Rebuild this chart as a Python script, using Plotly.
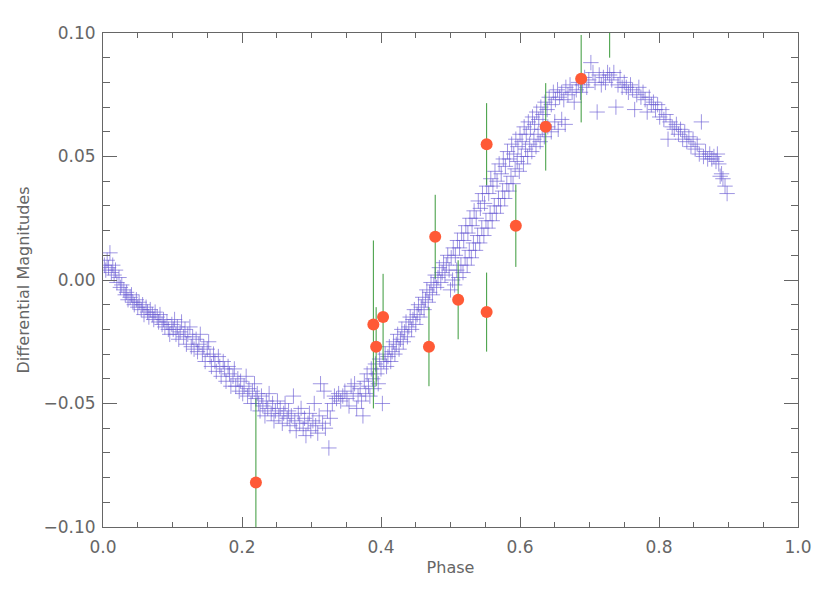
import plotly.graph_objects as go

# light curve points (plus markers)
lc_phase = [
    0.002, 0.004, 0.006, 0.008, 0.010, 0.012, 0.014, 0.016, 0.018, 0.020, 0.023, 0.025, 0.027, 0.030, 0.032,
    0.034, 0.036, 0.039, 0.041, 0.043, 0.045, 0.048, 0.050, 0.052, 0.055, 0.057, 0.059, 0.062, 0.064, 0.066,
    0.068, 0.071, 0.073, 0.075, 0.078, 0.080, 0.082, 0.085, 0.087, 0.089, 0.092, 0.094, 0.096, 0.099,
    0.101, 0.103, 0.105, 0.107, 0.109, 0.111, 0.113, 0.116, 0.118, 0.120, 0.122, 0.125, 0.127, 0.129, 0.131,
    0.134, 0.136, 0.138, 0.140, 0.143, 0.145, 0.147, 0.150, 0.152, 0.154, 0.156, 0.159, 0.161, 0.163, 0.166,
    0.168, 0.170, 0.173, 0.175, 0.177, 0.180, 0.182, 0.184, 0.187, 0.189, 0.191, 0.194, 0.196, 0.198, 0.201,
    0.203, 0.206, 0.208, 0.210, 0.213, 0.215, 0.218, 0.220,
    0.222, 0.224, 0.226, 0.228, 0.230, 0.233, 0.235, 0.237, 0.239, 0.242, 0.244, 0.246, 0.248, 0.251, 0.253,
    0.255, 0.258, 0.260, 0.262, 0.265, 0.267, 0.269, 0.271, 0.274, 0.276, 0.278, 0.281, 0.283, 0.285, 0.288,
    0.290, 0.292, 0.295, 0.297, 0.299, 0.302, 0.304, 0.306, 0.309, 0.311, 0.313, 0.316, 0.318, 0.320, 0.323,
    0.325, 0.327,
    0.330, 0.333, 0.336, 0.339, 0.342, 0.345, 0.348, 0.351, 0.354, 0.357, 0.360, 0.362, 0.365, 0.367, 0.370,
    0.372, 0.374, 0.376, 0.378, 0.380, 0.382, 0.384, 0.386, 0.388, 0.390, 0.392, 0.394, 0.396, 0.398, 0.400,
    0.402, 0.404,
    0.406, 0.408, 0.410, 0.412, 0.414, 0.416, 0.418, 0.420, 0.422, 0.424, 0.426, 0.428, 0.430, 0.432, 0.434,
    0.436, 0.438, 0.440, 0.442, 0.444, 0.446, 0.448, 0.450, 0.452, 0.454, 0.456, 0.458, 0.460, 0.462, 0.464,
    0.466, 0.468, 0.470, 0.472, 0.474, 0.476, 0.478, 0.480, 0.482, 0.484, 0.486, 0.488, 0.490, 0.492, 0.494,
    0.496, 0.498,
    0.501, 0.504, 0.507, 0.510, 0.513, 0.516, 0.519, 0.522, 0.525, 0.528, 0.531, 0.534, 0.537, 0.540, 0.543,
    0.546, 0.549, 0.552, 0.555, 0.558, 0.561, 0.564, 0.567, 0.570, 0.573, 0.576, 0.579, 0.582, 0.585, 0.588,
    0.591, 0.594, 0.597, 0.600, 0.603, 0.606, 0.609, 0.612, 0.615, 0.618, 0.621, 0.624, 0.627, 0.630, 0.633,
    0.636, 0.639, 0.642, 0.645, 0.648, 0.651, 0.654, 0.657,
    0.500, 0.503, 0.506, 0.509, 0.512, 0.515, 0.518, 0.521, 0.524, 0.527, 0.530, 0.533, 0.536, 0.539, 0.542,
    0.545, 0.548, 0.551, 0.554, 0.557, 0.560, 0.563, 0.566, 0.569, 0.572, 0.575, 0.578, 0.581, 0.584, 0.587,
    0.590, 0.593, 0.596, 0.599, 0.602, 0.605, 0.608, 0.611, 0.614, 0.617, 0.620, 0.623, 0.626, 0.629, 0.632,
    0.635, 0.640, 0.645, 0.650, 0.655, 0.660, 0.665,
    0.660, 0.663, 0.666, 0.669, 0.672, 0.675, 0.678, 0.681, 0.684, 0.687, 0.690, 0.693, 0.696, 0.699, 0.702,
    0.705, 0.708, 0.711, 0.714, 0.717, 0.720, 0.723, 0.726, 0.729, 0.732, 0.735, 0.738, 0.741, 0.744, 0.747,
    0.750, 0.753, 0.756, 0.759, 0.762, 0.765, 0.768, 0.771, 0.774, 0.777, 0.780, 0.783, 0.786, 0.789,
    0.792, 0.795, 0.798, 0.801, 0.804, 0.807, 0.810, 0.813, 0.816, 0.819, 0.822, 0.825, 0.828, 0.831, 0.834,
    0.837, 0.840, 0.843, 0.846, 0.849, 0.852, 0.855, 0.858, 0.861, 0.864, 0.867, 0.870, 0.873, 0.876, 0.879,
    0.882, 0.884, 0.886, 0.888, 0.890, 0.892, 0.895, 0.898,
]
lc_mag = [
    0.006, 0.004, 0.008, 0.005, 0.011, 0.003, 0.006, 0.002, 0.004, -0.001, 0.001, -0.003, -0.002, -0.004, -0.006,
    -0.005, -0.008, -0.007, -0.006, -0.009, -0.010, -0.008, -0.011, -0.009, -0.012, -0.010, -0.014, -0.011, -0.013, -0.015,
    -0.012, -0.014, -0.016, -0.013, -0.015, -0.017, -0.014, -0.018, -0.016, -0.019, -0.017, -0.020, -0.022, -0.018,
    -0.020, -0.016, -0.022, -0.019, -0.024, -0.021, -0.017, -0.023, -0.020, -0.026, -0.022, -0.019, -0.027, -0.023, -0.028,
    -0.024, -0.029, -0.026, -0.022, -0.030, -0.027, -0.033, -0.028, -0.025, -0.031, -0.035, -0.030, -0.033, -0.037, -0.031,
    -0.035, -0.039, -0.033, -0.036, -0.041, -0.035, -0.038, -0.043, -0.039, -0.036, -0.043, -0.040, -0.045, -0.041, -0.046,
    -0.043, -0.039, -0.047, -0.044, -0.050, -0.045, -0.042, -0.048,
    -0.046, -0.050, -0.053, -0.047, -0.051, -0.055, -0.049, -0.052, -0.046, -0.054, -0.050, -0.057, -0.053, -0.049, -0.055,
    -0.052, -0.058, -0.054, -0.050, -0.056, -0.053, -0.059, -0.055, -0.047, -0.057, -0.061, -0.054, -0.058, -0.052, -0.060,
    -0.056, -0.063, -0.058, -0.054, -0.061, -0.057, -0.050, -0.059, -0.062, -0.055, -0.042, -0.058, -0.045, -0.060, -0.053,
    -0.068, -0.056,
    -0.050, -0.047, -0.048, -0.046, -0.049, -0.047, -0.045, -0.048, -0.051, -0.043, -0.046, -0.042, -0.052, -0.047, -0.044,
    -0.049, -0.055, -0.041, -0.046, -0.038, -0.043, -0.047, -0.036, -0.040, -0.044, -0.034, -0.038, -0.042, -0.032, -0.036,
    -0.050, -0.033,
    -0.030, -0.035, -0.031, -0.027, -0.033, -0.029, -0.025, -0.030, -0.026, -0.022, -0.028, -0.024, -0.020, -0.025, -0.021,
    -0.017, -0.023, -0.019, -0.015, -0.020, -0.016, -0.012, -0.018, -0.014, -0.010, -0.015, -0.011, -0.007, -0.012, -0.008,
    -0.004, -0.009, -0.005, -0.001, -0.006, -0.002, 0.002, -0.003, 0.001, 0.005, -0.001, 0.003, 0.007, 0.002, 0.006,
    0.010, 0.004,
    0.009, 0.013, 0.010, 0.016, 0.013, 0.019, 0.016, 0.022, 0.019, 0.025, 0.022, 0.028, 0.025, 0.032, 0.029,
    0.035, 0.031, 0.038, 0.035, 0.041, 0.038, 0.044, 0.040, 0.047, 0.043, 0.049, 0.046, 0.052, 0.049, 0.055,
    0.051, 0.057, 0.054, 0.059, 0.056, 0.062, 0.059, 0.064, 0.061, 0.066, 0.063, 0.068, 0.065, 0.070, 0.067,
    0.072, 0.069, 0.074, 0.071, 0.076, 0.073, 0.077, 0.074,
    -0.004, 0.000, -0.002, 0.004, 0.001, 0.006, 0.003, 0.009, 0.006, 0.012, 0.009, 0.015, 0.012, 0.018, 0.015,
    0.021, 0.018, 0.024, 0.021, 0.027, 0.024, 0.030, 0.027, 0.033, 0.030, 0.036, 0.033, 0.039, 0.036, 0.042,
    0.039, 0.045, 0.048, 0.044, 0.050, 0.047, 0.053, 0.050, 0.055, 0.052, 0.057, 0.054, 0.059, 0.056, 0.061,
    0.058, 0.062, 0.060, 0.064, 0.061, 0.065, 0.063,
    0.076, 0.073, 0.078, 0.075, 0.079, 0.076, 0.072, 0.077, 0.080, 0.076, 0.079, 0.082, 0.078, 0.081, 0.088,
    0.084, 0.080, 0.068, 0.083, 0.079, 0.082, 0.080, 0.084, 0.083, 0.081, 0.084, 0.070, 0.079, 0.082, 0.078,
    0.080, 0.078, 0.076, 0.079, 0.077, 0.069, 0.075, 0.078, 0.074, 0.076, 0.073, 0.068, 0.074, 0.071,
    0.072, 0.069, 0.071, 0.066, 0.069, 0.065, 0.067, 0.057, 0.064, 0.062, 0.061, 0.063, 0.059, 0.061, 0.057,
    0.060, 0.056, 0.058, 0.054, 0.057, 0.053, 0.055, 0.051, 0.064, 0.050, 0.052, 0.049, 0.051, 0.049, 0.050,
    0.048, 0.051, 0.047, 0.042, 0.043, 0.041, 0.038, 0.035,
]

# photometry points with error bars
obs_phase = [0.220, 0.389, 0.393, 0.403, 0.469, 0.478, 0.511, 0.552, 0.552, 0.594, 0.637, 0.688, 0.729]
obs_mag = [-0.082, -0.018, -0.027, -0.015, -0.027, 0.0175, -0.008, -0.013, 0.055, 0.022, 0.062, 0.0815, 0.107]
obs_err = [0.034, 0.034, 0.016, 0.0175, 0.016, 0.017, 0.016, 0.016, 0.0166, 0.0167, 0.0177, 0.0177, 0.017]

x_ticks = [0.0, 0.2, 0.4, 0.6, 0.8, 1.0]
y_ticks = [-0.10, -0.05, 0.00, 0.05, 0.10]
y_ticklabels = ["\u22120.10", "\u22120.05", "0.00", "0.05", "0.10"]

axis_col = "#666666"
text_col = "#666666"
font_family = "DejaVu Sans, sans-serif"

fig = go.Figure()
fig.add_trace(go.Scatter(
    x=lc_phase, y=lc_mag, mode="markers",
    marker=dict(symbol="cross-thin", size=11,
                line=dict(width=1, color="rgba(100,85,210,0.62)")),
    showlegend=False,
))
fig.add_trace(go.Scatter(
    x=obs_phase, y=obs_mag, mode="markers",
    marker=dict(symbol="circle", size=12, color="#ff5a36"),
    error_y=dict(type="data", array=obs_err, color="#3a9a3a", thickness=1, width=0),
    showlegend=False,
))

fig.update_xaxes(
    range=[0, 1], tickvals=x_ticks, ticktext=[f"{v:.1f}" for v in x_ticks],
    ticks="inside", ticklen=10, tickwidth=1, tickcolor=axis_col,
    minor=dict(ticks="inside", ticklen=5, dtick=0.05, tickcolor=axis_col, tickwidth=1, showgrid=False),
    showline=True, linecolor=axis_col, linewidth=1, mirror="ticks",
    showgrid=False, zeroline=False, ticklabelstandoff=5,
    tickfont=dict(size=17, color=text_col, family=font_family),
    title=dict(text="Phase", font=dict(size=16, color=text_col, family=font_family), standoff=5),
)
fig.update_yaxes(
    range=[-0.1, 0.1], tickvals=y_ticks, ticktext=y_ticklabels,
    ticks="inside", ticklen=14, tickwidth=1, tickcolor=axis_col,
    minor=dict(ticks="inside", ticklen=7, dtick=0.01, tickcolor=axis_col, tickwidth=1, showgrid=False),
    showline=True, linecolor=axis_col, linewidth=1, mirror="ticks",
    showgrid=False, zeroline=False, ticklabelstandoff=3,
    tickfont=dict(size=17, color=text_col, family=font_family),
    title=dict(text="Differential Magnitudes", font=dict(size=16, color=text_col, family=font_family), standoff=9),
)
fig.update_layout(
    width=830, height=593,
    margin=dict(l=103, r=32, t=33, b=66, autoexpand=False),
    plot_bgcolor="white", paper_bgcolor="white",
)

fig.write_html("out.html", config={"displayModeBar": False},
               post_script="document.body.style.margin='0';")
